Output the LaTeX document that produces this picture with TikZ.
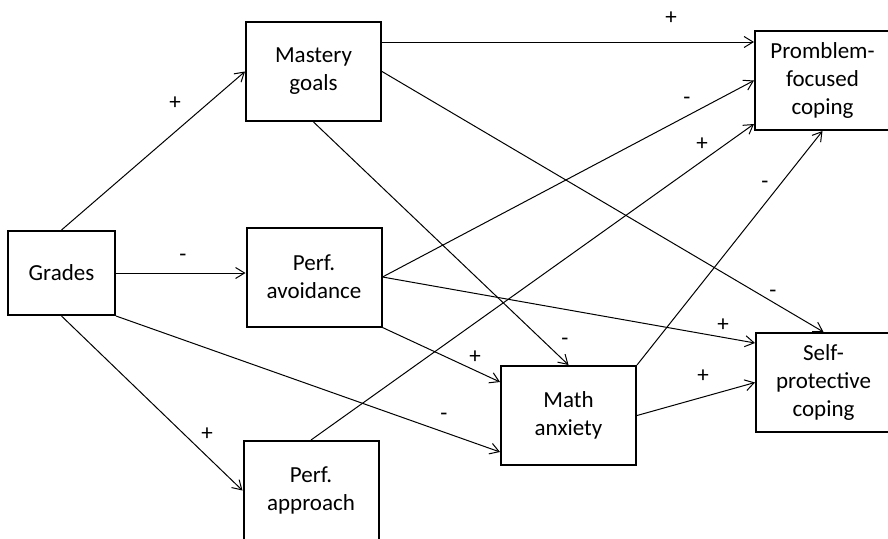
\documentclass[tikz,border=0pt]{standalone}
\usepackage{fontspec}
\setmainfont{Carlito}
\usetikzlibrary{arrows.meta}

\begin{document}
\begin{tikzpicture}[
    x = 1pt, y = -1pt,
    font = \fontsize{23}{28}\selectfont,
    >= {Straight Barb[length = 9pt, width = 11pt]},
    construct/.style = {rectangle,
      draw,
      line width = 2pt,
      align = center,
      minimum width = 135pt,
      minimum height = 99pt},
    link/.style = {->, line width = 1pt},
    sign/.style = {inner sep = 0pt}
    ]

    \useasboundingbox (0, 0) rectangle (888, 538);
    \clip (0, 0) rectangle (888, 538);

    \node at (61.5, 273) [construct, minimum width = 107pt,
      minimum height = 84pt, name = G] {Grades};
    \node at (313.5, 71.5) [construct, name = M] {Mastery\\goals};
    \node at (314, 277) [construct, name = A] {Perf.\\avoidance};
    \node at (311, 490.5) [construct, name = P] {Perf.\\approach};
    \node at (568.5, 415.5) [construct, name = X] {Math\\anxiety};
    \node at (822.5, 80.5) [construct, name = R] {Promblem-\\focused\\coping};
    \node at (823.5, 382.5) [construct, name = S] {Self-\\protective\\coping};

    \coordinate (m1) at ([yshift = -21pt]M.north east);

    \draw [link] (G.north) to (M.west);
    \draw [link] (G.east) to (G.east -| A.west);
    \draw [link] (G.south) to (P.west);
    \draw [link] (G.south east) to ([yshift = 14pt]X.south west);

    \draw [link] (m1) to (m1 -| R.west);
    \draw [link] (M.east) to (S.north);
    \draw [link] (M.south) to (X.north);

    \draw [link] (A.east) to (R.west);
    \draw [link] (A.east) to ([yshift = -11pt]S.north west);
    \draw [link] (A.south east) to ([yshift = -17pt]X.north west);

    \draw [link] (P.north) to ([yshift = 7pt]R.south west);

    \draw [link] (X.north east) to (R.south);
    \draw [link] (X.east) to (S.west);

    % signs of the paths
    \node at (175, 103) [sign, name = gm] {+};
    \node at (183, 258) [sign, name = ga] {-};
    \node at (207, 434) [sign, name = gp] {+};
    \node at (444, 417) [sign, name = gx] {-};
    \node at (671, 18) [sign, name = mr] {+};
    \node at (773, 294) [sign, name = ms] {-};
    \node at (565, 342) [sign, name = mx] {-};
    \node at (687, 101) [sign, name = ar] {-};
    \node at (723, 325) [sign, name = as] {+};
    \node at (475, 357) [sign, name = ax] {+};
    \node at (702, 144) [sign, name = pr] {+};
    \node at (765, 185) [sign, name = xr] {-};
    \node at (703, 376) [sign, name = xs] {+};
  \end{tikzpicture}
\end{document}
